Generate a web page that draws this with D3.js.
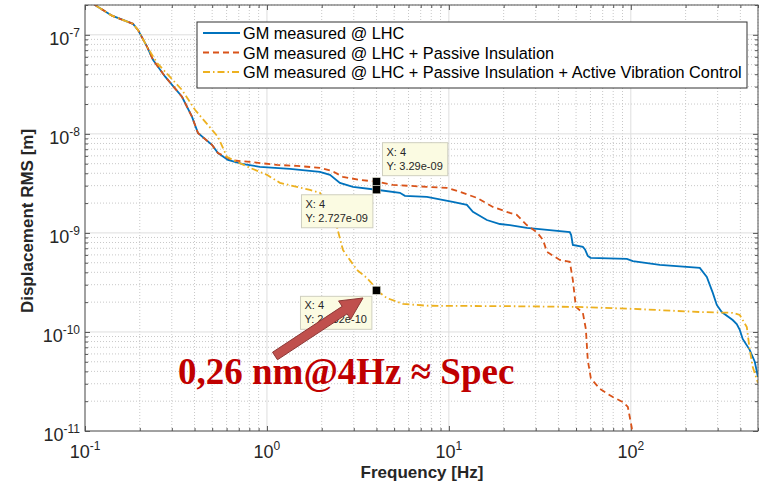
<!DOCTYPE html>
<html>
<head>
<meta charset="utf-8">
<script src="https://cdn.jsdelivr.net/npm/d3@7"></script>
<style>
  body { margin: 0; background: #fff; }
  text { font-family: Arial, "Liberation Sans", Helvetica, sans-serif; }
</style>
</head>
<body>
<div id="chart"></div>
<script>
// series (frequency in Hz, displacement RMS in m)
const lhcFreq = [0.1, 0.1135, 0.1407, 0.1836, 0.1955, 0.2192, 0.2364, 0.2752, 0.3412, 0.3871, 0.4177, 0.4986, 0.538, 0.6106, 0.7288, 0.915, 1.338, 1.955, 2.22, 2.518, 2.969, 4, 5.38, 5.73, 7.57, 10.5, 12.56, 13.55, 16.17, 19.06, 21.64, 26.8, 46.2, 47, 48, 54.5, 56, 58, 60, 95.1, 102.6, 144.3, 239.4, 261.6, 282.2, 296.8, 316, 363, 382, 397, 412, 450, 480, 500];
const lhcDisp = [2.4e-7, 2.0e-7, 1.56e-7, 1.29e-7, 1.12e-7, 7.6e-8, 5.6e-8, 3.8e-8, 2.37e-8, 1.49e-8, 1.02e-8, 7.75e-9, 6.4e-9, 5.46e-9, 4.98e-9, 4.65e-9, 4.43e-9, 4.13e-9, 3.86e-9, 3.2e-9, 2.92e-9, 2.727e-9, 2.54e-9, 2.37e-9, 2.31e-9, 2.06e-9, 1.92e-9, 1.63e-9, 1.35e-9, 1.23e-9, 1.2e-9, 1.125e-9, 1.02e-9, 9.5e-10, 7.57e-10, 7.23e-10, 6.8e-10, 5.86e-10, 5.6e-10, 5.46e-10, 5.2e-10, 4.75e-10, 4.43e-10, 3.6e-10, 2.48e-10, 1.875e-10, 1.59e-10, 1.32e-10, 1.2e-10, 1.05e-10, 8.5e-11, 6.6e-11, 5e-11, 3.5e-11];

const passiveFreq = [0.1, 0.1135, 0.1407, 0.1836, 0.1955, 0.2192, 0.2364, 0.2752, 0.3412, 0.3871, 0.4177, 0.4986, 0.538, 0.6106, 0.65, 0.806, 1.135, 1.461, 1.955, 2.276, 2.616, 3.243, 4, 4.92, 7.57, 9.75, 11.49, 14.25, 17.45, 21.64, 23.6, 26.8, 30.4, 32.9, 34.6, 40.7, 46.2, 48, 49.9, 54.5, 56.6, 58, 60.3, 67.6, 79.6, 90.4, 96.3, 101.3, 102];
const passiveDisp = [2.4e-7, 2.0e-7, 1.56e-7, 1.29e-7, 1.12e-7, 7.6e-8, 5.6e-8, 3.8e-8, 2.37e-8, 1.49e-8, 1.02e-8, 7.75e-9, 6.4e-9, 5.7e-9, 5.4e-9, 5.21e-9, 4.86e-9, 4.75e-9, 4.54e-9, 4.23e-9, 3.68e-9, 3.43e-9, 3.29e-9, 3.05e-9, 2.92e-9, 2.85e-9, 2.6e-9, 2.26e-9, 1.83e-9, 1.59e-9, 1.52e-9, 1.2e-9, 1.02e-9, 8.5e-10, 6.43e-10, 5.34e-10, 5.1e-10, 3.35e-10, 1.79e-10, 1.56e-10, 1.07e-10, 5.2e-11, 3.4e-11, 2.66e-11, 2.2e-11, 1.96e-11, 1.75e-11, 1.07e-11, 8e-12];

const activeFreq = [0.1, 0.1135, 0.1407, 0.1836, 0.1955, 0.2192, 0.2486, 0.3412, 0.4022, 0.4986, 0.538, 0.603, 0.65, 0.806, 1.0, 1.179, 1.723, 1.955, 2.424, 2.616, 3.122, 3.544, 3.92, 4, 4.56, 5.59, 7.57, 21.64, 50.5, 102.6, 239.4, 363, 397, 412, 434, 441, 450.6, 468, 500];
const activeDisp = [2.4e-7, 2.0e-7, 1.56e-7, 1.29e-7, 1.12e-7, 7.6e-8, 5.21e-8, 2.78e-8, 1.75e-8, 1.1e-8, 9.33e-9, 5.86e-9, 5.46e-9, 4.54e-9, 3.86e-9, 3.2e-9, 2.72e-9, 2.54e-9, 1.15e-9, 6.73e-10, 4.23e-10, 3.51e-10, 2.85e-10, 2.632e-10, 2.2e-10, 1.92e-10, 1.84e-10, 1.82e-10, 1.79e-10, 1.71e-10, 1.59e-10, 1.56e-10, 1.485e-10, 1.32e-10, 1.12e-10, 8.9e-11, 6.58e-11, 4.43e-11, 3.05e-11];

const seriesNames = ["GM measured @ LHC", "GM measured @ LHC + Passive Insulation", "GM measured @ LHC + Passive Insulation + Active Vibration Control"];
const tipFreq = [4, 4, 4];
const tipDisp = [3.29e-9, 2.727e-9, 2.632e-10];
const tipLabels = ["3.29e-09", "2.727e-09", "2.632e-10"];
const xMajor = [0.1, 1, 10, 100];
const yMajor = [1e-11, 1e-10, 1e-9, 1e-8, 1e-7];

const width = 761;
const height = 489;

const svg = d3.select("#chart").append("svg")
    .attr("width", width)
    .attr("height", height);

const x = d3.scaleLog().domain([0.1, 500]).range([85, 758]);
const y = d3.scaleLog().domain([1e-11, 2e-7]).range([431, 5]);
const [x0, x1] = x.range();
const [y0, y1] = y.range();

// minor ticks
const xMinor = [];
xMajor.forEach((d) => {
    for (let k = 2; k <= 9; k++) if (d * k <= 500) xMinor.push(d * k);
});
const yMinor = [];
yMajor.forEach((d) => {
    for (let k = 2; k <= 9; k++) if (d * k <= 2e-7) yMinor.push(d * k);
});

// grid
const grid = svg.append("g");
grid.selectAll(".gx-minor").data(xMinor).enter().append("line")
    .attr("x1", (d) => x(d)).attr("x2", (d) => x(d))
    .attr("y1", y0).attr("y2", y1)
    .attr("stroke", "#c8c8c8").attr("stroke-dasharray", "1,2");
grid.selectAll(".gy-minor").data(yMinor).enter().append("line")
    .attr("y1", (d) => y(d)).attr("y2", (d) => y(d))
    .attr("x1", x0).attr("x2", x1)
    .attr("stroke", "#c8c8c8").attr("stroke-dasharray", "1,2");
grid.selectAll(".gx-major").data(xMajor).enter().append("line")
    .attr("x1", (d) => x(d)).attr("x2", (d) => x(d))
    .attr("y1", y0).attr("y2", y1)
    .attr("stroke", "#dedede");
grid.selectAll(".gy-major").data(yMajor).enter().append("line")
    .attr("y1", (d) => y(d)).attr("y2", (d) => y(d))
    .attr("x1", x0).attr("x2", x1)
    .attr("stroke", "#dedede");

// axes with inward ticks on all four sides
function addAxis(axisFn, scale, values, size, transform) {
    svg.append("g")
        .attr("transform", transform)
        .call(axisFn(scale).tickValues(values).tickSize(size).tickFormat(() => ""))
        .call((g) => g.select(".domain").remove())
        .selectAll("line").attr("stroke", "#555");
}
addAxis(d3.axisBottom, x, xMajor, -5, `translate(0,${y0})`);
addAxis(d3.axisBottom, x, xMinor, -3, `translate(0,${y0})`);
addAxis(d3.axisTop, x, xMajor, -5, `translate(0,${y1})`);
addAxis(d3.axisTop, x, xMinor, -3, `translate(0,${y1})`);
addAxis(d3.axisLeft, y, yMajor, -5, `translate(${x0},0)`);
addAxis(d3.axisLeft, y, yMinor, -3, `translate(${x0},0)`);
addAxis(d3.axisRight, y, yMajor, -5, `translate(${x1},0)`);
addAxis(d3.axisRight, y, yMinor, -3, `translate(${x1},0)`);

// tick labels 10^n
const xl = svg.selectAll(".xlab").data(xMajor).enter().append("text")
    .attr("x", (d) => x(d)).attr("y", 458)
    .attr("text-anchor", "middle").attr("fill", "#262626").attr("font-size", 18);
xl.append("tspan").text("10");
xl.append("tspan").attr("font-size", 12).attr("dy", -8).text((d) => Math.round(Math.log10(d)));

const yl = svg.selectAll(".ylab").data(yMajor).enter().append("text")
    .attr("x", 80).attr("y", (d) => y(d) + 10)
    .attr("text-anchor", "end").attr("fill", "#262626").attr("font-size", 18);
yl.append("tspan").text("10");
yl.append("tspan").attr("font-size", 12).attr("dy", -8).text((d) => Math.round(Math.log10(d)));

// axis titles
svg.append("text")
    .attr("x", 422).attr("y", 478)
    .attr("text-anchor", "middle").attr("font-weight", "bold")
    .attr("font-size", 17).attr("fill", "#262626")
    .text("Frequency [Hz]");
svg.append("text")
    .attr("transform", "translate(33,221) rotate(-90)")
    .attr("text-anchor", "middle").attr("font-weight", "bold")
    .attr("font-size", 17).attr("fill", "#262626")
    .text("Displacement RMS [m]");

// clip for curves
svg.append("clipPath").attr("id", "plot-clip")
    .append("rect").attr("x", x0).attr("y", y1)
    .attr("width", x1 - x0).attr("height", y0 - y1);

const colors = ["#0072BD", "#D95319", "#EDB120"];
const dashes = [null, "6,4", "7,3,1.5,3"];
const series = [
    d3.zip(lhcFreq, lhcDisp),
    d3.zip(passiveFreq, passiveDisp),
    d3.zip(activeFreq, activeDisp)
];
const line = d3.line().x((d) => x(d[0])).y((d) => y(d[1]));

const curves = svg.append("g").attr("clip-path", "url(#plot-clip)");
series.forEach((s, i) => {
    curves.append("path")
        .datum(s)
        .attr("d", line)
        .attr("fill", "none")
        .attr("stroke", colors[i])
        .attr("stroke-width", 1.8)
        .attr("stroke-dasharray", dashes[i]);
});

// axes box
svg.append("rect")
    .attr("x", x0).attr("y", y1)
    .attr("width", x1 - x0).attr("height", y0 - y1)
    .attr("fill", "none").attr("stroke", "#555").attr("stroke-width", 1);

// data tips
const tipOffsets = [[6, -39], [-75, 5], [-76, 6]];
tipFreq.forEach((f, i) => {
    const px = x(f);
    const py = y(tipDisp[i]);
    const g = svg.append("g")
        .attr("transform", `translate(${px + tipOffsets[i][0]},${py + tipOffsets[i][1]})`);
    const box = g.append("rect").attr("fill", "#fbfbe2").attr("stroke", "#cfcfbf");
    const t1 = g.append("text").attr("x", 4).attr("y", 13)
        .attr("font-size", 11).attr("fill", "#262626").text("X: " + f);
    const t2 = g.append("text").attr("x", 4).attr("y", 27)
        .attr("font-size", 11).attr("fill", "#262626").text("Y: " + tipLabels[i]);
    const w = Math.max(t1.node().getComputedTextLength(), t2.node().getComputedTextLength()) + 9;
    box.attr("width", w).attr("height", 33);
});
tipFreq.forEach((f, i) => {
    svg.append("rect")
        .attr("x", x(f) - 4).attr("y", y(tipDisp[i]) - 4)
        .attr("width", 8).attr("height", 8)
        .attr("fill", "#000").attr("stroke", "#e0e0d0").attr("stroke-width", 0.5);
});

// legend
const legend = svg.append("g");
legend.append("rect")
    .attr("x", 197).attr("y", 22).attr("width", 550).attr("height", 66)
    .attr("fill", "#fff").attr("stroke", "#333").attr("stroke-width", 1);
seriesNames.forEach((name, i) => {
    const ly = 33 + i * 19.5;
    legend.append("line")
        .attr("x1", 203).attr("x2", 240).attr("y1", ly).attr("y2", ly)
        .attr("stroke", colors[i]).attr("stroke-width", 1.8)
        .attr("stroke-dasharray", dashes[i]);
    legend.append("text")
        .attr("x", 243).attr("y", ly + 6)
        .attr("font-size", 16.3).attr("fill", "#000")
        .text(name);
});

// annotation arrow
const tail = [275, 356];
const tip = [363, 298];
const dx = tip[0] - tail[0], dy = tip[1] - tail[1];
const len = Math.hypot(dx, dy);
const ux = dx / len, uy = dy / len;
const nx = -uy, ny = ux;
const headLen = 22, headW = 11, shaftW = 4.5;
const bx = tip[0] - ux * headLen, by = tip[1] - uy * headLen;
const arrowPts = [
    [tail[0] + nx * shaftW, tail[1] + ny * shaftW],
    [bx + nx * shaftW, by + ny * shaftW],
    [bx + nx * headW, by + ny * headW],
    tip,
    [bx - nx * headW, by - ny * headW],
    [bx - nx * shaftW, by - ny * shaftW],
    [tail[0] - nx * shaftW, tail[1] - ny * shaftW]
];
svg.append("polygon")
    .attr("points", arrowPts.map((p) => p.join(",")).join(" "))
    .attr("fill", "#c0504d").attr("stroke", "#8c3836").attr("stroke-width", 1);

svg.append("text")
    .attr("x", 178).attr("y", 384)
    .style("font-family", "'Liberation Serif', 'Times New Roman', 'DejaVu Serif', serif")
    .attr("font-weight", "bold").attr("font-size", 37)
    .attr("fill", "#c00000")
    .text("0,26 nm@4Hz \u2248 Spec");
</script>
</body>
</html>
